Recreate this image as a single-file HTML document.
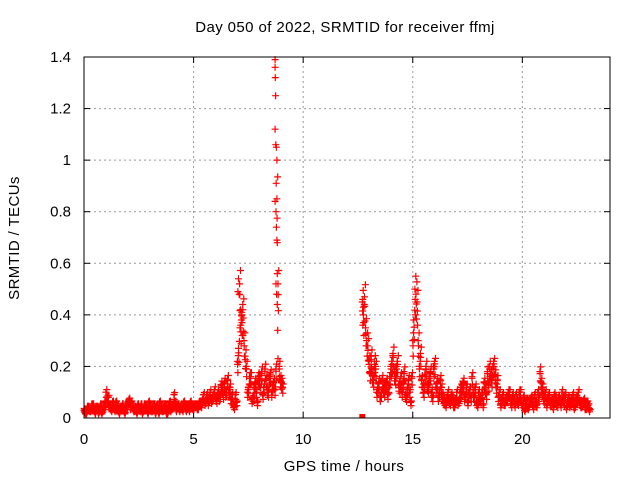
<!DOCTYPE html>
<html><head><meta charset="utf-8"><style>
body{margin:0;background:#fff;}
svg{display:block;font-family:"Liberation Sans",sans-serif;}
</style></head><body>
<svg id="chart" width="640" height="480" viewBox="0 0 640 480">
<text x="345" y="32" font-size="15" letter-spacing="0.4" text-anchor="middle">Day 050 of 2022, SRMTID for receiver ffmj</text>
<text transform="translate(19,238) rotate(-90)" font-size="15" letter-spacing="0.4" text-anchor="middle">SRMTID / TECUs</text>
<text x="344" y="471" font-size="15" letter-spacing="0.4" text-anchor="middle">GPS time / hours</text>
<g id="grid"></g>
<g id="marks"></g>
<rect x="84" y="57" width="526" height="361" fill="none" stroke="#000" stroke-width="1"/>
</svg>
<script>
const xTicks=[0,5,10,15,20];
const yTicks=[0,0.2,0.4,0.6,0.8,1,1.2,1.4];
const yTickLabels=["0","0.2","0.4","0.6","0.8","1","1.2","1.4"];
const morningStart=0.0, afternoonStart=12.7, step=0.1;
const morningA=[0.03,0.02,0.04,0.03,0.05,0.02,0.04,0.03,0.02,0.04,0.1,
0.08,0.04,0.06,0.03,0.05,0.02,0.04,0.03,0.05,0.06,
0.04,0.05,0.03,0.02,0.04,0.05,0.03,0.04,0.02,0.05,
0.03,0.05,0.04,0.02,0.04,0.03,0.05,0.02,0.06,0.04,
0.09,0.03,0.05,0.04,0.03,0.05,0.04,0.03,0.05,0.04,
0.05,0.04,0.06,0.07,0.06,0.09,0.08,0.07,0.09,0.08,
0.1,0.09,0.12,0.14,0.11,0.1,0.07,0.05,0.09,0.22,
0.52,0.4,0.3,0.2,0.12,0.16,0.08,0.14,0.06,0.15,
0.18,0.12,0.15,0.1,0.17,0.13,0.11,0.85,0.2,0.14];
const morningB=[0.02,0.04,0.03,0.05,0.03,0.04,0.02,0.05,0.03,0.06,0.08,
0.05,0.03,0.04,0.06,0.03,0.04,0.05,0.02,0.04,0.07,
0.06,0.03,0.04,0.05,0.03,0.02,0.05,0.04,0.06,0.03,
0.05,0.02,0.04,0.06,0.03,0.05,0.02,0.04,0.03,0.05,
0.06,0.05,0.03,0.04,0.06,0.03,0.05,0.06,0.04,0.05,
0.04,0.06,0.05,0.09,0.07,0.06,0.1,0.08,0.11,0.07,
0.08,0.13,0.09,0.1,0.15,0.12,0.09,0.04,0.06,0.27,
0.36,0.42,0.24,0.1,0.16,0.07,0.12,0.1,0.16,0.12,
0.09,0.19,0.11,0.16,0.1,0.14,0.19,0.52,0.15,0.12];
const afternoonA=[0.45,0.47,0.3,0.22,0.24,0.15,0.2,0.12,0.08,0.15,
0.1,0.14,0.12,0.2,0.25,0.16,0.22,0.12,0.1,0.18,
0.08,0.15,0.06,0.3,0.5,0.45,0.2,0.15,0.1,0.2,
0.12,0.18,0.08,0.21,0.14,0.1,0.12,0.07,0.05,0.1,
0.06,0.08,0.05,0.1,0.07,0.12,0.14,0.09,0.06,0.11,
0.16,0.08,0.06,0.1,0.07,0.05,0.12,0.18,0.2,0.15,
0.21,0.12,0.08,0.05,0.09,0.06,0.08,0.1,0.05,0.07,
0.09,0.06,0.1,0.05,0.03,0.07,0.05,0.08,0.04,0.06,
0.1,0.18,0.12,0.07,0.05,0.09,0.06,0.04,0.08,0.05,
0.07,0.1,0.06,0.04,0.08,0.06,0.09,0.05,0.07,0.06,
0.05,0.07,0.04,0.05];
const afternoonB=[0.4,0.35,0.28,0.18,0.17,0.22,0.1,0.14,0.1,0.12,
0.13,0.09,0.16,0.22,0.18,0.2,0.13,0.16,0.14,0.09,
0.12,0.1,0.16,0.38,0.48,0.3,0.25,0.12,0.17,0.13,
0.16,0.1,0.2,0.12,0.08,0.15,0.09,0.06,0.08,0.07,
0.09,0.05,0.07,0.06,0.1,0.13,0.08,0.12,0.1,0.08,
0.1,0.12,0.05,0.08,0.1,0.14,0.09,0.13,0.17,0.2,
0.17,0.15,0.1,0.07,0.06,0.08,0.1,0.07,0.09,0.05,
0.07,0.1,0.06,0.08,0.05,0.04,0.07,0.06,0.09,0.05,
0.08,0.14,0.09,0.1,0.08,0.06,0.07,0.09,0.06,0.08,
0.05,0.08,0.09,0.06,0.05,0.07,0.04,0.08,0.1,0.05,
0.06,0.04,0.06,0.03];
const spikeTimes=[8.72,8.72,8.73,8.74,8.72,8.75,8.78,8.8,8.77,8.72,8.76,8.78,8.8,8.82,8.76,8.79,8.82,8.84,8.85,7.05,7.1,7.02,7.08,7.15,7.2,7.18,7.12,7.25,12.72,12.75];
const spikeValues=[1.39,1.36,1.32,1.25,1.12,1.06,1.05,1.0,0.91,0.84,0.8,0.74,0.69,0.56,0.52,0.48,0.44,0.34,0.23,0.54,0.52,0.49,0.48,0.42,0.41,0.38,0.35,0.32,0.46,0.43];

const X0=84,X1=610,Y0=418,Y1=57,xMax=24,yMax=1.4;
const xs=t=>X0+(t/xMax)*(X1-X0);
const ys=v=>Y0-(v/yMax)*(Y0-Y1);
const NS="http://www.w3.org/2000/svg";
const grid=document.getElementById('grid');
const marks=document.getElementById('marks');
function mk(tag,attrs,parent){const e=document.createElementNS(NS,tag);for(const k in attrs)e.setAttribute(k,attrs[k]);parent.appendChild(e);return e;}
xTicks.forEach(t=>{
  const x=xs(t);
  if(t>0){const l=mk('line',{x1:x,y1:Y0,x2:x,y2:Y1,stroke:'#999','stroke-dasharray':'2,3'},grid);
  
  }
  const tx=mk('text',{x:x,y:444,'font-size':15,'text-anchor':'middle'},grid);
  tx.textContent=t;
  
  
  mk('line',{x1:x,y1:Y0,x2:x,y2:Y0-6,stroke:'#000'},grid);
  mk('line',{x1:x,y1:Y1,x2:x,y2:Y1+6,stroke:'#000'},grid);
});
yTicks.forEach((v,i)=>{
  const y=ys(v);
  if(v>0&&v<yMax){const l=mk('line',{x1:X0,y1:y,x2:X1,y2:y,stroke:'#999','stroke-dasharray':'2,3'},grid);
  
  }
  const tx=mk('text',{x:71,y:y+5,'font-size':15,'text-anchor':'end'},grid);
  tx.textContent=yTickLabels[i];
  
  
  mk('line',{x1:X0,y1:y,x2:X0+6,y2:y,stroke:'#000'},grid);
  mk('line',{x1:X1,y1:y,x2:X1-6,y2:y,stroke:'#000'},grid);
});
let d='';
function plus(t,v){const x=xs(t),y=ys(v);d+=`M${(x-3.5).toFixed(1)} ${y.toFixed(1)}h7M${x.toFixed(1)} ${(y-3.5).toFixed(1)}v7`;}
function cluster(t,v){plus(t,v);plus(t+0.02,v*0.8);plus(t+0.04,v*1.1);plus(t+0.01,v*0.9+0.01);}
morningA.forEach((v,i)=>cluster(morningStart+i*step,v));
morningB.forEach((v,i)=>cluster(morningStart+i*step+0.05,v));
afternoonA.forEach((v,i)=>cluster(afternoonStart+i*step,v));
afternoonB.forEach((v,i)=>cluster(afternoonStart+i*step+0.05,v));
spikeTimes.forEach((t,i)=>plus(t,spikeValues[i]));
const p=mk('path',{d:d,stroke:'#f00','stroke-width':1.2,fill:'none'},marks);


const sq=mk('rect',{x:xs(12.7)-3,y:Y0-4,width:6,height:4,fill:'#f00'},marks);


</script>
</body></html>
